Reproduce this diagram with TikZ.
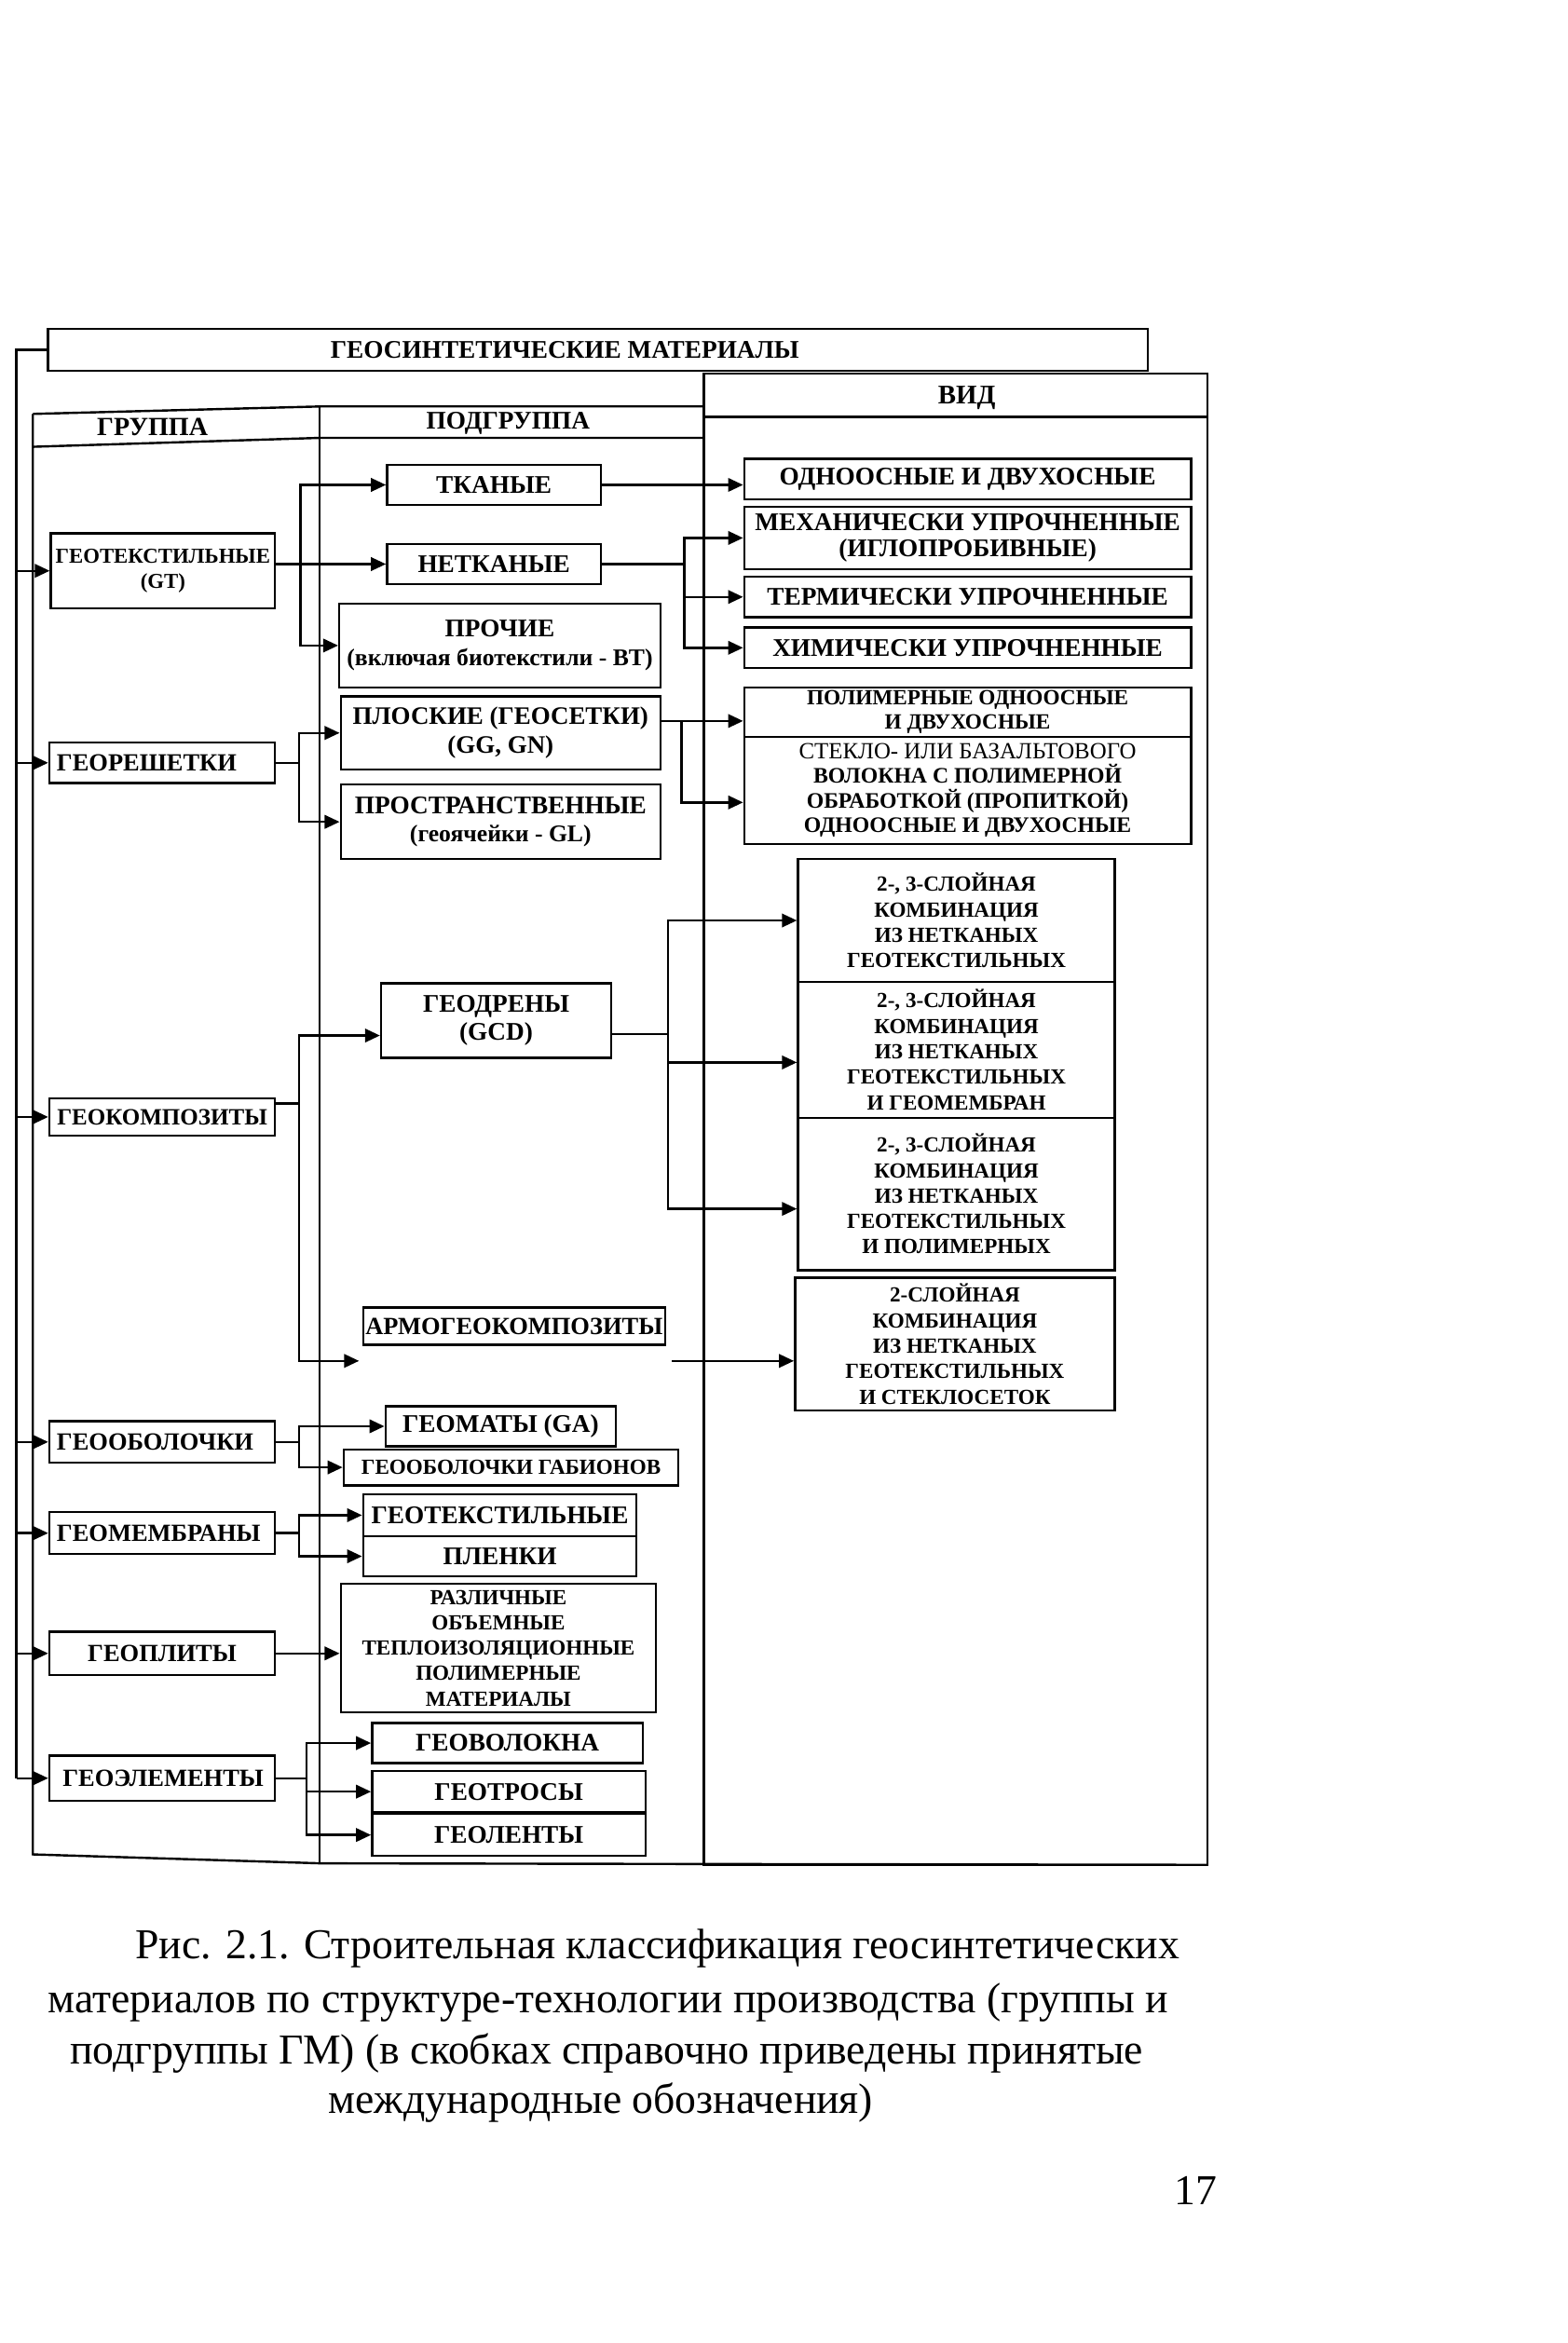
\documentclass[tikz,border=0pt]{standalone}
\usepackage{fontspec}
\setmainfont{Liberation Serif}
\usetikzlibrary{arrows.meta}
\newcommand\fz[2]{\fontsize{#1}{#2}\selectfont\bfseries}
\begin{document}
\begin{tikzpicture}[x=1pt,y=-1pt,
  box/.style={draw, line width=1.5pt, inner sep=0pt, align=center, font=\fz{17}{19}},
  gbox/.style={box, text width=141pt, inner xsep=5pt, align=left, minimum width=151, font=\fz{16.5}{19}},
  small/.style={font=\fz{14.4}{17}},
  ln/.style={line width=1.5pt},
  arr/.style={line width=1.5pt, -{Triangle[length=10pt,width=9pt]}},
  hd/.style={font=\fz{17}{19}},
  captxt/.style={font=\fontsize{28.5}{33}\selectfont}]
\useasboundingbox (0,0) rectangle (1049,1568);

% title and frame
\node[draw, line width=1.5pt, minimum width=736, minimum height=28] (title) at (400,234) {};
\node[hd] (titletxt) at (378,234) {ГЕОСИНТЕТИЧЕСКИЕ МАТЕРИАЛЫ};
\draw[ln] (22,277) -- (22,1241) -- (215,1247) -- (808,1248);
\draw[ln] (22,277) -- (215,272) -- (471,272);
\draw[ln] (22,299) -- (215,293) -- (471,293);
\draw[ln] (214,272) -- (214,1247);
\draw[ln] (471,250) rectangle (808,1248);
\draw[ln] (471,279) -- (808,279);
\node[font=\fz{17.5}{19}] (hg) at (102,286) {ГРУППА};
\node[hd] (hp) at (340,283) {ПОДГРУППА};
\node[font=\fz{18}{19}] (hv) at (647,266) {ВИД};

% groups
\node[box, minimum width=150, minimum height=50, font=\fz{14.2}{17}] (gt) at (109,382) {ГЕОТЕКСТИЛЬНЫЕ\\(GT)};
\node[gbox, minimum height=27] (gr) at (108.5,510.5) {ГЕОРЕШЕТКИ};
\node[box, minimum width=151, minimum height=25, font=\fz{15.6}{19}] (gk) at (108.5,747.5) {ГЕОКОМПОЗИТЫ};
\node[gbox, minimum height=28] (go) at (108.5,965) {ГЕООБОЛОЧКИ};
\node[gbox, minimum height=28] (gm) at (108.5,1026) {ГЕОМЕМБРАНЫ};
\node[gbox, minimum height=29, align=center] (gp) at (108.5,1106.5) {ГЕОПЛИТЫ};
\node[gbox, minimum height=30] (ge) at (108.5,1190) {\hspace*{4pt}ГЕОЭЛЕМЕНТЫ};

% subgroups
\node[box, minimum width=143, minimum height=27] (tk) at (330.5,324.5) {ТКАНЫЕ};
\node[box, minimum width=143, minimum height=27] (nt) at (330.5,377.5) {НЕТКАНЫЕ};
\node[box, minimum width=215, minimum height=56] (pr) at (334.5,432) {ПРОЧИЕ\\{\fz{16}{18}(включая биотекстили - BT)}};
\node[box, minimum width=214, minimum height=49, font=\fz{16.8}{19}] (pl) at (335,490.5) {ПЛОСКИЕ (ГЕОСЕТКИ)\\(GG, GN)};
\node[box, minimum width=214, minimum height=50] (ps) at (335,550) {ПРОСТРАНСТВЕННЫЕ\\{\fz{16}{18}(геоячейки - GL)}};
\node[box, minimum width=154, minimum height=50] (gd) at (332,683) {ГЕОДРЕНЫ\\(GCD)};
\node[box, minimum width=202, minimum height=25, font=\fz{16.5}{19}] (ag) at (344,887.5) {АРМОГЕОКОМПОЗИТЫ};
\node[box, minimum width=154, minimum height=27] (gmt) at (335,954.5) {ГЕОМАТЫ (GA)};
\node[box, small, minimum width=224, minimum height=24] (gob) at (342,982) {ГЕООБОЛОЧКИ ГАБИОНОВ};
\node[box, minimum width=183, minimum height=28] (gtx) at (334.5,1014) {ГЕОТЕКСТИЛЬНЫЕ};
\node[box, minimum width=183, minimum height=27] (pln) at (334.5,1041.5) {ПЛЕНКИ};
\node[box, small, minimum width=211, minimum height=86] (raz) at (333.5,1103) {РАЗЛИЧНЫЕ\\ОБЪЕМНЫЕ\\ТЕПЛОИЗОЛЯЦИОННЫЕ\\ПОЛИМЕРНЫЕ\\МАТЕРИАЛЫ};
\node[box, minimum width=181, minimum height=27] (gv) at (339.5,1166.5) {ГЕОВОЛОКНА};
\node[box, minimum width=183, minimum height=28] (gtr) at (340.5,1199) {ГЕОТРОСЫ};
\node[box, minimum width=183, minimum height=28] (gl) at (340.5,1228) {ГЕОЛЕНТЫ};

% kinds
\node[box, minimum width=299, minimum height=27] (v1) at (647.5,320.5) {ОДНООСНЫЕ И ДВУХОСНЫЕ};
\node[box, minimum width=299, minimum height=42, font=\fz{17}{18}] (v2) at (647.5,360) {МЕХАНИЧЕСКИ УПРОЧНЕННЫЕ\\(ИГЛОПРОБИВНЫЕ)};
\node[box, minimum width=299, minimum height=27] (v3) at (647.5,399.5) {ТЕРМИЧЕСКИ УПРОЧНЕННЫЕ};
\node[box, minimum width=299, minimum height=27] (v4) at (647.5,433.5) {ХИМИЧЕСКИ УПРОЧНЕННЫЕ};
\node[box, minimum width=299, minimum height=33, font=\fz{14.5}{16.5}] (v5) at (647.5,476.5) {ПОЛИМЕРНЫЕ ОДНООСНЫЕ\\И ДВУХОСНЫЕ};
\node[box, minimum width=299, minimum height=72, font=\fz{14.8}{16.5}] (v6) at (647.5,529) {{\mdseries\fontsize{15.5}{16.5}\selectfont СТЕКЛО- ИЛИ БАЗАЛЬТОВОГО}\\ВОЛОКНА С ПОЛИМЕРНОЙ\\ОБРАБОТКОЙ (ПРОПИТКОЙ)\\ОДНООСНЫЕ И ДВУХОСНЫЕ};
\node[box, small, minimum width=212, minimum height=82] (v7) at (640,616) {2-, 3-СЛОЙНАЯ\\КОМБИНАЦИЯ\\ИЗ НЕТКАНЫХ\\ГЕОТЕКСТИЛЬНЫХ};
\node[box, small, minimum width=212, minimum height=91] (v8) at (640,702.5) {2-, 3-СЛОЙНАЯ\\КОМБИНАЦИЯ\\ИЗ НЕТКАНЫХ\\ГЕОТЕКСТИЛЬНЫХ\\И ГЕОМЕМБРАН};
\node[box, small, minimum width=212, minimum height=102] (v9) at (640,799) {2-, 3-СЛОЙНАЯ\\КОМБИНАЦИЯ\\ИЗ НЕТКАНЫХ\\ГЕОТЕКСТИЛЬНЫХ\\И ПОЛИМЕРНЫХ};
\node[box, small, minimum width=214, minimum height=89] (v10) at (639,899.5) {2-СЛОЙНАЯ\\КОМБИНАЦИЯ\\ИЗ НЕТКАНЫХ\\ГЕОТЕКСТИЛЬНЫХ\\И СТЕКЛОСЕТОК};

% connectors
\coordinate (feed) at (11,0);
\coordinate (b1) at (201,0);
\coordinate (b2) at (458,0);
\coordinate (b3) at (200,0);
\coordinate (b4) at (456,0);
\coordinate (b5) at (447,0);
\coordinate (b6) at (205,0);

\draw[ln] (title.west) -| (feed |- ge.west);
\foreach \g in {gt,gr,gk,go,gm,gp,ge} \draw[arr] (feed |- \g.west) -- (\g.west);

\draw[arr] (gt.east |- nt.west) -- (nt.west);
\draw[arr] (b1 |- nt.west) |- (tk.west);
\draw[arr] (b1 |- nt.west) |- (pr.west);
\draw[arr] (tk.east) -- (tk.east -| v1.west);

\draw[ln] (nt.east) -- (nt.east -| b2);
\draw[arr] (nt.east -| b2) |- (v2.west);
\draw[arr] (nt.east -| b2) |- (v3.west);
\draw[arr] (nt.east -| b2) |- (v4.west);

\draw[ln] (gr.east) -- (gr.east -| b3);
\draw[arr] (gr.east -| b3) |- (pl.west);
\draw[arr] (gr.east -| b3) |- (ps.west);

\coordinate (p1) at ([yshift=8pt]pl.east);
\draw[arr] (p1) -- (p1 -| v5.west);
\draw[arr] (p1 -| b4) |- ([yshift=-8pt]v6.west);

\coordinate (k1) at ([yshift=9pt]gk.east);
\coordinate (agin) at ([shift={(-2pt,-10pt)}]ag.south west);
\draw[ln] (k1) -- (k1 -| b3);
\draw[arr] (k1 -| b3) |- ([yshift=-10pt]gd.west);
\draw[arr] (k1 -| b3) |- (agin);

\coordinate (d1) at ([yshift=-9pt]gd.east);
\draw[ln] (d1) -- (d1 -| b5);
\draw[arr] (d1 -| b5) |- (v7.west);
\draw[arr] (d1 -| b5) |- ([yshift=-8.5pt]v8.west);
\draw[arr] (d1 -| b5) |- ([yshift=-10pt]v9.west);

\coordinate (agout) at ([shift={(4pt,-10pt)}]ag.south east);
\draw[arr] (agout) -- (agout -| v10.west);

\draw[ln] (go.east) -- (go.east -| b3);
\draw[arr] (go.east -| b3) |- (gmt.west);
\draw[arr] (go.east -| b3) |- (gob.west);

\draw[ln] (gm.east) -- (gm.east -| b3);
\draw[arr] (gm.east -| b3) |- (gtx.west);
\draw[arr] (gm.east -| b3) |- (pln.west);

\draw[arr] (gp.east) -- (gp.east -| raz.west);

\draw[ln] (ge.east) -- (ge.east -| b6);
\draw[arr] (ge.east -| b6) |- (gv.west);
\draw[arr] (ge.east -| b6) |- (gtr.west);
\draw[arr] (ge.east -| b6) |- (gl.west);

% caption
\node[captxt] (cap1) at (440,1304) {Рис. 2.1. Строительная классификация геосинтетических};
\node[captxt] (cap2) at (407,1340) {материалов по структуре-технологии производства (группы и};
\node[captxt] (cap3) at (406,1374) {подгруппы ГМ) (в скобках справочно приведены принятые};
\node[captxt] (cap4) at (402,1407) {международные обозначения)};
\node[captxt] (pg) at (800,1466) {17};
\end{tikzpicture}
\end{document}
